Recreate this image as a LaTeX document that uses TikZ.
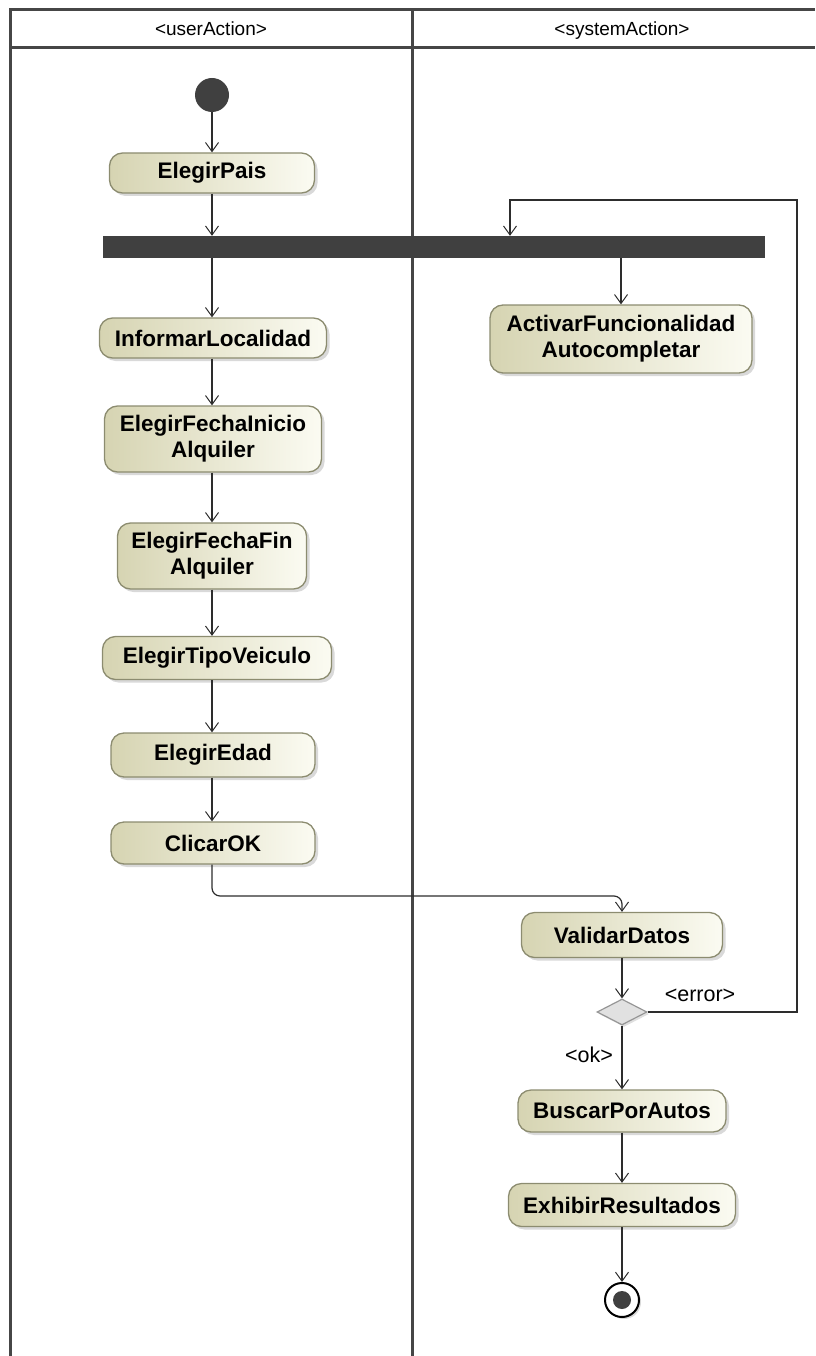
\documentclass[tikz,border=0pt]{standalone}
\usepackage{fontspec}
\setmainfont{Liberation Sans}
\usetikzlibrary{arrows.meta,shapes.geometric,shadows}

\definecolor{laneCol}{RGB}{70,70,70}
\definecolor{actDark}{RGB}{214,212,178}
\definecolor{actLight}{RGB}{251,251,242}
\definecolor{actBorder}{RGB}{140,140,112}
\definecolor{barCol}{RGB}{64,64,64}
\definecolor{flowCol}{RGB}{45,45,45}
\definecolor{decFill}{RGB}{225,225,225}
\definecolor{decBorder}{RGB}{150,150,150}

\tikzset{
  lane/.style={draw=laneCol, line width=3pt},
  hdr/.style={font=\fontsize{19}{22}\selectfont, inner sep=0pt, anchor=base},
  action/.style={rectangle, rounded corners=13pt, draw=actBorder, line width=1.3pt,
    left color=actDark, right color=actLight,
    drop shadow={shadow xshift=3pt, shadow yshift=-3pt, opacity=0.3},
    font=\fontsize{22.5}{26}\selectfont\bfseries, align=center, inner sep=0pt},
  flow/.style={draw=flowCol, line width=1.2pt,
    -{Straight Barb[length=9pt, width=13pt, line width=1pt]}},
  guard/.style={font=\fontsize{21.5}{24}\selectfont, inner sep=0pt},
}

\begin{document}
\begin{tikzpicture}[x=1pt, y=-1pt]
  \useasboundingbox (0,0) rectangle (815,1356);

  % swimlane frame
  \draw[lane] (10,1356) -- (10,10) -- (815,10);
  \draw[lane] (10,48) -- (815,48);
  \draw[lane] (412,10) -- (412,1356);
  \node[hdr] (userLane) at (211,36) {<userAction>};
  \node[hdr] (sysLane) at (622,36) {<systemAction>};

  % initial node and fork
  \node[circle, fill=barCol, minimum size=34pt, inner sep=0pt] (init) at (212,95) {};
  \node[action, minimum width=205pt, minimum height=40pt] (pais) at (212,173) {ElegirPais};
  \node[fill=barCol, minimum width=662pt, minimum height=22pt, inner sep=0pt] (fork) at (434,247) {};

  % user actions
  \node[action, minimum width=227pt, minimum height=40pt] (loc) at (213,338) {InformarLocalidad};
  \node[action, minimum width=217pt, minimum height=66pt] (ini) at (213,439) {ElegirFechaInicio\\Alquiler};
  \node[action, minimum width=189pt, minimum height=66pt] (fin) at (212,556) {ElegirFechaFin\\Alquiler};
  \node[action, minimum width=229pt, minimum height=43pt] (tipo) at (217,658) {ElegirTipoVeiculo};
  \node[action, minimum width=204pt, minimum height=44pt] (edad) at (213,755) {ElegirEdad};
  \node[action, minimum width=204pt, minimum height=42pt] (okb) at (213,843) {ClicarOK};

  % system actions
  \node[action, minimum width=262pt, minimum height=68pt] (act) at (621,339) {ActivarFuncionalidad\\Autocompletar};
  \node[action, minimum width=201pt, minimum height=45pt] (val) at (622,935) {ValidarDatos};
  \node[diamond, draw=decBorder, fill=decFill, line width=1.2pt, inner sep=0pt,
        minimum width=50pt, minimum height=26pt,
        drop shadow={shadow xshift=2pt, shadow yshift=-2pt, opacity=0.25}] (dec) at (622,1012) {};
  \node[action, minimum width=208pt, minimum height=42pt] (busc) at (622,1111) {BuscarPorAutos};
  \node[action, minimum width=227pt, minimum height=43pt] (exh) at (622,1205) {ExhibirResultados};

  % final node
  \node[circle, draw=black, line width=2pt, fill=white, minimum size=34pt, inner sep=0pt,
        drop shadow={shadow xshift=2pt, shadow yshift=-2pt, opacity=0.3}] (final) at (622,1300) {};
  \node[circle, fill=barCol, minimum size=18pt, inner sep=0pt] (finalDot) at (final) {};

  % guards
  \node[guard] (errLbl) at (700,995) {<error>};
  \node[guard] (okLbl) at (589,1055) {<ok>};

  % loop-back point above the fork
  \coordinate (loopTop) at (797,200);
  \coordinate (forkIn) at (510,200);

  % control flows
  \draw[flow] (init) -- (pais);
  \draw[flow] (pais.south) -- (pais.south |- fork.north);
  \draw[flow] (fork.south -| 212,0) -- (loc.north -| 212,0);
  \draw[flow] (fork.south -| act.north) -- (act.north);
  \draw[flow] (loc.south -| 212,0) -- (ini.north -| 212,0);
  \draw[flow] (ini.south -| 212,0) -- (fin.north -| 212,0);
  \draw[flow] (fin.south -| 212,0) -- (tipo.north -| 212,0);
  \draw[flow] (tipo.south -| 212,0) -- (edad.north -| 212,0);
  \draw[flow] (edad.south -| 212,0) -- (okb.north -| 212,0);
  \draw[flow, rounded corners=8pt] (okb.south -| 212,0) -- (212,896) -| (val.north);
  \draw[flow] (val.south) -- (dec.north);
  \draw[flow] (dec.east) -| (loopTop) -- (forkIn) -- (forkIn |- fork.north);
  \draw[flow] (dec.south) -- (busc.north);
  \draw[flow] (busc.south) -- (exh.north);
  \draw[flow] (exh.south) -- (final.north);
\end{tikzpicture}
\end{document}
